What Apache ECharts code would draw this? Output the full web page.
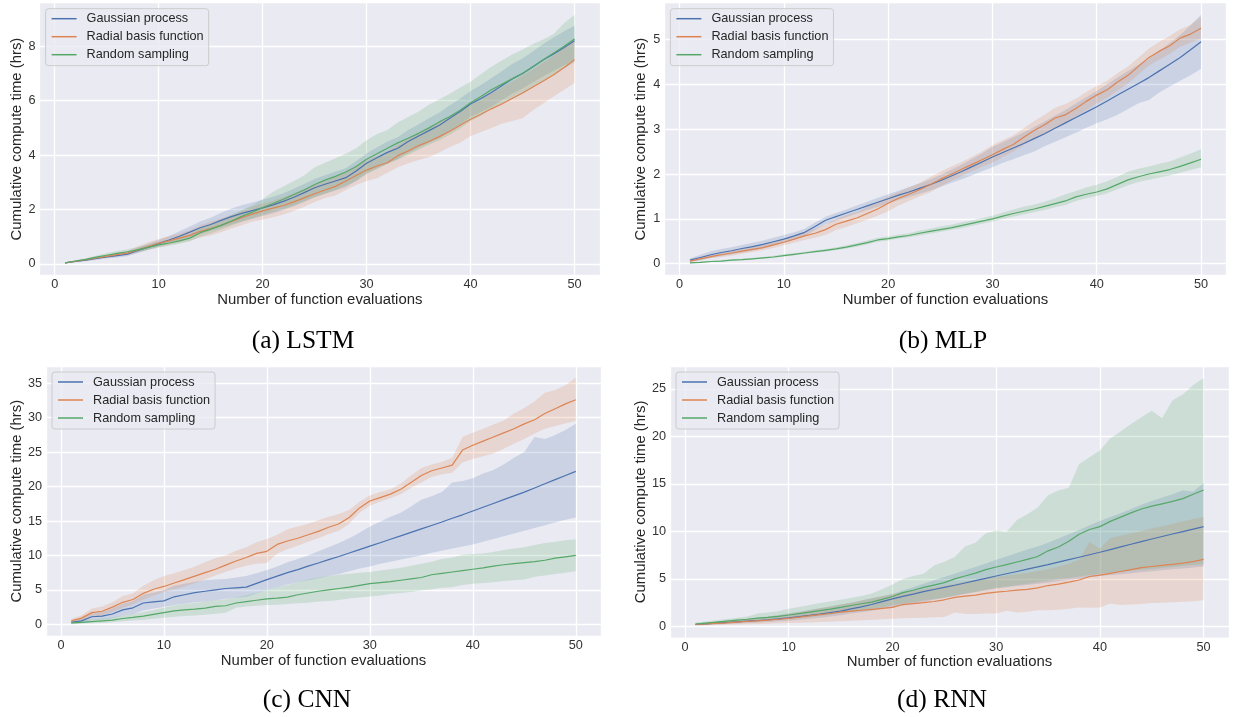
<!DOCTYPE html>
<html><head><meta charset="utf-8">
<script src="https://cdn.jsdelivr.net/npm/echarts@6/dist/echarts.min.js"></script>
<style>html,body{margin:0;padding:0;background:#fff;}#c{width:1233px;height:717px;}</style>
</head><body><div id="c"></div>
<script>
const evals = [1,2,3,4,5,6,7,8,9,10,11,12,13,14,15,16,17,18,19,20,21,22,23,24,25,26,27,28,29,30,31,32,33,34,35,36,37,38,39,40,41,42,43,44,45,46,47,48,49,50];
const seriesNames = ['Gaussian process','Radial basis function','Random sampling'];
const captions = ['(a) LSTM','(b) MLP','(c) CNN','(d) RNN'];
const yAxisTitle = 'Cumulative compute time (hrs)';
const xAxisTitle = 'Number of function evaluations';
const yTickSteps = [2, 1, 5, 5];
const xTickStep = 10;

// (a) LSTM
const aGpMean = [0.04,0.09,0.14,0.20,0.26,0.31,0.36,0.50,0.62,0.75,0.88,1.02,1.17,1.33,1.45,1.60,1.74,1.86,1.96,2.06,2.17,2.30,2.45,2.62,2.80,2.93,3.05,3.17,3.42,3.70,3.90,4.10,4.25,4.50,4.70,4.90,5.10,5.35,5.60,5.88,6.08,6.30,6.55,6.80,7.00,7.25,7.50,7.72,7.95,8.20];
const aGpLo = [0.02,0.06,0.10,0.15,0.20,0.24,0.28,0.40,0.52,0.64,0.74,0.85,0.97,1.10,1.22,1.33,1.45,1.56,1.65,1.76,1.86,1.98,2.12,2.28,2.45,2.58,2.70,2.82,3.05,3.33,3.52,3.70,3.85,4.08,4.27,4.45,4.63,4.88,5.12,5.40,5.58,5.78,6.02,6.25,6.45,6.68,6.90,7.10,7.30,7.50];
const aGpHi = [0.06,0.12,0.18,0.25,0.32,0.38,0.44,0.60,0.74,0.88,1.03,1.20,1.38,1.56,1.70,1.88,2.04,2.16,2.26,2.36,2.47,2.60,2.76,2.94,3.12,3.26,3.40,3.52,3.78,4.06,4.28,4.50,4.66,4.92,5.13,5.35,5.57,5.83,6.08,6.36,6.58,6.82,7.08,7.35,7.55,7.82,8.08,8.32,8.55,8.75];
const aRbfMean = [0.04,0.10,0.16,0.22,0.28,0.34,0.40,0.52,0.64,0.76,0.85,0.95,1.05,1.20,1.30,1.42,1.56,1.70,1.83,1.95,2.05,2.15,2.28,2.43,2.58,2.72,2.85,3.05,3.25,3.45,3.60,3.72,3.98,4.15,4.35,4.50,4.68,4.88,5.10,5.32,5.50,5.70,5.88,6.08,6.28,6.50,6.72,6.95,7.22,7.50];
const aRbfLo = [0.02,0.07,0.12,0.17,0.22,0.27,0.32,0.42,0.52,0.62,0.70,0.78,0.86,0.97,1.05,1.17,1.30,1.42,1.55,1.63,1.72,1.82,1.95,2.10,2.28,2.42,2.52,2.72,2.90,3.05,3.15,3.35,3.55,3.70,3.82,3.92,4.10,4.30,4.45,4.70,4.85,5.00,5.15,5.25,5.35,5.65,5.90,6.15,6.40,6.65];
const aRbfHi = [0.06,0.13,0.20,0.27,0.34,0.41,0.48,0.65,0.80,0.92,1.02,1.12,1.24,1.42,1.55,1.67,1.80,1.96,2.10,2.22,2.32,2.45,2.60,2.76,2.90,3.05,3.20,3.38,3.58,3.80,3.97,4.12,4.38,4.58,4.80,4.98,5.18,5.40,5.62,5.86,6.05,6.28,6.48,6.70,6.92,7.15,7.40,7.65,7.95,8.30];
const aRsMean = [0.04,0.11,0.17,0.25,0.32,0.39,0.45,0.52,0.61,0.70,0.77,0.85,0.95,1.15,1.28,1.42,1.58,1.75,1.90,2.07,2.22,2.38,2.55,2.72,2.92,3.08,3.22,3.38,3.58,3.85,4.05,4.25,4.45,4.62,4.80,5.00,5.22,5.42,5.65,5.92,6.15,6.40,6.60,6.80,7.00,7.25,7.50,7.75,8.00,8.27];
const aRsLo = [0.02,0.08,0.13,0.19,0.24,0.30,0.36,0.43,0.52,0.60,0.67,0.74,0.83,1.00,1.12,1.26,1.40,1.55,1.68,1.80,1.92,2.02,2.15,2.30,2.45,2.58,2.72,2.88,3.05,3.30,3.48,3.66,3.84,4.00,4.20,4.38,4.55,4.75,4.98,5.25,5.45,5.70,5.88,6.06,6.25,6.50,6.72,6.95,7.18,7.40];
const aRsHi = [0.06,0.14,0.21,0.31,0.40,0.48,0.54,0.62,0.71,0.82,0.90,1.00,1.10,1.32,1.46,1.62,1.80,1.98,2.15,2.38,2.65,2.85,3.05,3.25,3.55,3.72,3.88,4.05,4.25,4.55,4.78,4.92,5.20,5.40,5.60,5.85,6.05,6.25,6.48,6.70,6.98,7.25,7.48,7.70,7.88,8.08,8.25,8.45,8.85,9.15];

// (b) MLP
const bGpMean = [0.08,0.14,0.20,0.25,0.29,0.34,0.38,0.43,0.49,0.55,0.62,0.70,0.83,0.97,1.05,1.13,1.21,1.29,1.37,1.45,1.53,1.60,1.68,1.76,1.85,1.95,2.05,2.16,2.27,2.38,2.48,2.58,2.68,2.79,2.90,3.02,3.14,3.26,3.38,3.50,3.63,3.76,3.89,4.02,4.15,4.30,4.45,4.60,4.77,4.95];
const bGpLo = [0.04,0.08,0.13,0.17,0.21,0.25,0.29,0.34,0.40,0.47,0.54,0.62,0.75,0.88,0.96,1.04,1.12,1.20,1.27,1.35,1.42,1.49,1.56,1.63,1.71,1.80,1.88,1.97,2.06,2.15,2.25,2.33,2.42,2.50,2.62,2.72,2.82,2.92,3.03,3.13,3.22,3.32,3.45,3.58,3.65,3.82,3.95,4.08,4.20,4.35];
const bGpHi = [0.12,0.20,0.28,0.33,0.37,0.42,0.47,0.52,0.58,0.64,0.70,0.78,0.92,1.05,1.13,1.21,1.30,1.38,1.47,1.55,1.63,1.71,1.79,1.88,1.98,2.09,2.20,2.33,2.46,2.60,2.71,2.82,2.93,3.05,3.17,3.30,3.43,3.57,3.71,3.85,4.00,4.15,4.30,4.44,4.58,4.75,4.92,5.10,5.32,5.55];
const bRbfMean = [0.06,0.11,0.16,0.20,0.24,0.28,0.32,0.36,0.42,0.48,0.55,0.62,0.68,0.76,0.88,0.95,1.02,1.12,1.22,1.35,1.46,1.55,1.65,1.76,1.88,1.99,2.10,2.21,2.32,2.43,2.55,2.66,2.82,2.97,3.10,3.25,3.32,3.46,3.62,3.76,3.88,4.05,4.20,4.40,4.60,4.74,4.86,5.03,5.12,5.25];
const bRbfLo = [0.04,0.08,0.12,0.15,0.18,0.22,0.26,0.30,0.35,0.41,0.47,0.53,0.58,0.64,0.75,0.82,0.90,0.98,1.07,1.17,1.30,1.40,1.50,1.59,1.72,1.84,1.95,2.06,2.16,2.25,2.38,2.50,2.65,2.78,2.88,3.02,3.12,3.28,3.43,3.57,3.70,3.86,4.02,4.22,4.42,4.55,4.68,4.84,4.93,5.02];
const bRbfHi = [0.08,0.14,0.20,0.25,0.29,0.33,0.38,0.42,0.49,0.56,0.63,0.71,0.78,0.87,1.00,1.08,1.15,1.26,1.37,1.50,1.60,1.70,1.80,1.93,2.05,2.16,2.26,2.38,2.50,2.64,2.76,2.86,3.02,3.18,3.32,3.48,3.56,3.68,3.83,3.96,4.08,4.25,4.40,4.60,4.80,4.95,5.08,5.23,5.33,5.50];
const bRsMean = [0.02,0.03,0.05,0.06,0.08,0.09,0.11,0.13,0.15,0.18,0.21,0.24,0.27,0.30,0.33,0.37,0.42,0.47,0.53,0.56,0.60,0.63,0.68,0.72,0.76,0.80,0.85,0.90,0.95,1.00,1.06,1.12,1.17,1.22,1.28,1.34,1.40,1.49,1.55,1.60,1.67,1.77,1.87,1.94,2.00,2.05,2.10,2.17,2.25,2.33];
const bRsLo = [0.01,0.02,0.04,0.05,0.07,0.08,0.10,0.11,0.13,0.16,0.19,0.22,0.25,0.27,0.30,0.34,0.38,0.43,0.49,0.52,0.56,0.59,0.63,0.67,0.71,0.75,0.79,0.84,0.89,0.94,0.99,1.05,1.10,1.15,1.20,1.26,1.31,1.40,1.46,1.51,1.57,1.66,1.75,1.82,1.87,1.92,1.97,2.03,2.09,2.15];
const bRsHi = [0.03,0.05,0.06,0.08,0.10,0.11,0.13,0.15,0.18,0.21,0.24,0.27,0.30,0.33,0.37,0.41,0.46,0.52,0.58,0.61,0.65,0.68,0.74,0.78,0.83,0.87,0.92,0.97,1.02,1.07,1.14,1.21,1.27,1.32,1.38,1.46,1.55,1.62,1.70,1.76,1.84,1.94,2.05,2.12,2.17,2.23,2.28,2.37,2.46,2.55];

// (c) CNN
const cGpMean = [0.30,0.50,1.10,1.20,1.50,2.10,2.40,3.10,3.25,3.40,4.00,4.30,4.60,4.80,5.00,5.20,5.30,5.40,5.95,6.50,7.00,7.50,7.95,8.45,8.90,9.40,9.85,10.35,10.85,11.35,11.85,12.35,12.85,13.35,13.85,14.35,14.85,15.40,15.90,16.45,17.00,17.55,18.10,18.65,19.20,19.80,20.40,21.00,21.60,22.20];
const cGpLo = [0.10,0.20,0.60,0.70,0.90,1.30,1.50,2.00,2.30,2.50,2.80,3.00,3.20,3.30,3.50,3.70,3.85,4.00,4.50,5.00,5.40,5.80,6.10,6.40,6.70,7.00,7.30,7.70,8.10,8.40,8.80,9.10,9.40,9.70,10.00,10.40,10.70,11.00,11.30,11.60,12.00,12.40,12.80,13.20,13.60,14.00,14.40,14.80,15.20,15.50];
const cGpHi = [0.50,0.90,1.70,1.80,2.30,3.00,3.40,4.30,4.60,5.00,5.60,5.90,6.20,6.40,6.50,6.60,6.80,7.00,7.40,7.90,8.40,9.00,9.50,10.00,10.60,11.20,11.80,12.50,13.30,14.20,14.90,15.60,16.20,17.10,18.10,18.60,19.20,20.60,20.80,21.20,21.90,22.40,23.20,24.20,25.00,27.20,26.90,27.50,28.20,29.10];
const cRbfMean = [0.50,0.90,1.70,1.90,2.50,3.20,3.60,4.50,5.10,5.50,6.00,6.50,7.00,7.50,8.00,8.60,9.20,9.70,10.30,10.60,11.60,12.10,12.50,13.00,13.50,14.10,14.60,15.50,16.90,17.90,18.40,18.90,19.60,20.60,21.60,22.30,22.70,23.10,25.30,26.00,26.60,27.20,27.80,28.40,29.10,29.70,30.60,31.30,32.00,32.60];
const cRbfLo = [0.20,0.40,1.10,1.30,1.80,2.40,2.90,3.60,4.20,4.70,5.10,5.50,6.00,6.50,7.10,7.60,8.10,8.50,8.80,8.90,10.30,10.90,11.40,12.00,12.50,13.10,13.60,14.60,16.20,17.20,17.80,18.30,18.90,19.80,20.60,21.40,21.80,22.00,23.50,24.00,24.40,24.80,25.50,26.20,26.90,27.70,28.40,28.80,29.20,29.50];
const cRbfHi = [0.80,1.30,2.30,2.60,3.20,4.10,4.50,5.60,6.40,7.00,7.40,7.90,8.40,9.00,9.60,10.00,10.70,11.20,11.90,12.40,13.00,13.80,14.20,14.60,15.10,15.60,16.00,16.60,17.80,18.70,19.20,19.60,20.40,21.60,22.70,23.20,23.60,24.20,27.20,27.80,28.40,29.00,29.60,30.60,31.40,32.40,33.60,34.00,34.70,35.80];
const cRsMean = [0.20,0.30,0.40,0.50,0.60,0.85,1.00,1.20,1.45,1.70,1.95,2.10,2.20,2.35,2.60,2.70,3.10,3.30,3.50,3.70,3.80,3.95,4.30,4.55,4.80,5.00,5.20,5.40,5.65,5.90,6.05,6.20,6.40,6.60,6.80,7.20,7.40,7.60,7.80,8.00,8.20,8.45,8.65,8.80,8.95,9.10,9.30,9.60,9.80,10.00];
const cRsLo = [0.00,0.10,0.15,0.20,0.30,0.45,0.55,0.65,0.80,0.95,1.10,1.20,1.30,1.40,1.55,1.70,2.40,2.60,2.70,2.80,2.85,2.95,3.05,3.15,3.30,3.40,3.55,3.75,3.90,4.05,4.20,4.40,4.55,4.70,4.90,5.10,5.30,5.40,5.70,5.90,6.00,6.10,6.30,6.40,6.50,6.90,7.10,7.30,7.50,7.70];
const cRsHi = [0.40,0.55,0.70,0.85,1.00,1.30,1.55,1.80,2.10,2.40,2.75,2.95,3.10,3.30,3.50,3.65,3.90,4.20,4.60,5.00,5.40,5.70,6.10,6.50,6.80,7.00,7.20,7.35,7.50,7.60,7.80,8.00,8.20,8.50,8.80,9.10,9.50,9.70,10.10,10.20,10.30,10.50,10.80,11.00,11.20,11.50,11.80,12.00,12.20,12.30];

// (d) RNN
const dGpMean = [0.20,0.27,0.34,0.41,0.48,0.55,0.62,0.70,0.79,0.90,1.02,1.15,1.29,1.44,1.60,1.85,2.05,2.30,2.60,2.90,3.15,3.40,3.65,3.88,4.10,4.33,4.57,4.81,5.05,5.30,5.54,5.78,6.02,6.26,6.50,6.76,7.02,7.28,7.54,7.80,8.08,8.36,8.64,8.92,9.20,9.46,9.72,9.98,10.24,10.50];
const dGpLo = [0.10,0.15,0.20,0.25,0.30,0.35,0.40,0.46,0.53,0.60,0.70,0.80,0.92,1.05,1.18,1.35,1.50,1.65,1.82,2.00,2.20,2.40,2.60,2.80,3.00,3.20,3.40,3.60,3.80,4.00,4.12,4.24,4.36,4.48,4.60,4.74,4.88,5.02,5.16,5.30,5.40,5.50,5.60,5.70,5.80,5.90,6.00,6.10,6.20,6.30];
const dGpHi = [0.30,0.40,0.50,0.60,0.70,0.80,0.92,1.05,1.20,1.38,1.55,1.72,1.90,2.10,2.30,2.50,2.72,2.95,3.18,3.42,3.78,4.12,4.48,4.85,5.20,5.55,5.90,6.25,6.62,7.00,7.35,7.72,8.08,8.42,8.80,9.25,9.70,10.15,10.65,11.10,11.50,11.90,12.35,12.80,13.20,13.55,13.90,14.30,14.20,15.10];
const dRbfMean = [0.20,0.26,0.32,0.38,0.45,0.52,0.59,0.66,0.75,0.85,0.97,1.10,1.23,1.36,1.50,1.60,1.70,1.80,1.90,2.00,2.30,2.40,2.50,2.62,2.80,3.05,3.18,3.30,3.48,3.60,3.70,3.82,3.90,4.05,4.30,4.45,4.65,4.88,5.25,5.40,5.58,5.78,5.98,6.18,6.30,6.42,6.52,6.65,6.82,7.05];
const dRbfLo = [0.10,0.12,0.14,0.17,0.20,0.23,0.26,0.29,0.32,0.35,0.38,0.42,0.46,0.50,0.55,0.60,0.65,0.70,0.75,0.80,0.85,0.88,0.92,0.96,1.00,1.45,1.30,1.30,1.35,1.35,1.65,1.45,1.55,1.70,1.70,1.75,1.85,2.00,1.95,2.00,2.40,2.25,2.30,2.35,2.45,2.50,2.55,2.60,2.65,2.75];
const dRbfHi = [0.30,0.40,0.50,0.60,0.70,0.80,0.90,1.02,1.15,1.30,1.50,1.70,1.90,2.10,2.30,2.50,2.72,2.95,3.18,3.40,3.60,3.75,3.90,4.10,4.30,4.50,4.70,4.88,5.05,5.20,5.35,5.50,5.65,5.82,6.00,6.30,6.60,7.00,8.90,8.20,9.30,9.55,9.80,10.05,10.30,10.55,10.80,11.05,11.30,11.55];
const dRsMean = [0.25,0.35,0.45,0.55,0.65,0.75,0.88,0.95,1.05,1.20,1.35,1.50,1.65,1.82,2.00,2.20,2.38,2.55,2.85,3.15,3.55,3.80,4.10,4.35,4.60,5.00,5.30,5.60,5.98,6.25,6.50,6.78,7.05,7.35,7.95,8.35,8.95,9.70,10.20,10.50,11.05,11.50,11.95,12.35,12.65,12.90,13.15,13.45,13.90,14.35];
const dRsLo = [0.15,0.22,0.28,0.35,0.42,0.48,0.55,0.62,0.70,0.80,0.90,1.00,1.12,1.25,1.40,1.55,1.70,1.85,2.02,2.20,2.38,2.55,2.72,2.88,3.05,3.25,3.45,3.65,3.85,4.05,4.20,4.35,4.50,4.65,4.80,4.95,5.10,5.25,5.40,5.55,5.65,5.75,5.85,5.95,6.05,6.15,6.25,6.35,6.45,6.55];
const dRsHi = [0.40,0.52,0.65,0.78,0.90,1.05,1.35,1.45,1.60,1.85,2.05,2.25,2.45,2.62,2.80,3.00,3.20,3.45,3.90,4.40,5.00,5.30,5.55,6.40,6.80,7.30,8.40,8.80,9.80,10.10,9.95,11.20,11.80,12.50,13.80,14.30,14.60,17.10,17.80,18.50,19.80,20.50,21.30,22.00,22.70,21.90,23.80,24.40,25.40,26.10];

const palette = ['#4C72B0', '#DD8452', '#55A868'];
const bandFill = ['rgba(76,114,176,0.2)', 'rgba(221,132,82,0.2)', 'rgba(85,168,104,0.2)'];
const SANS = '"Liberation Sans", Arial, sans-serif';
const SERIF = '"Liberation Serif", "Times New Roman", serif';

const panels = [
  { caption: captions[0], cap: [303, 341], grid: {left: 39.6, top: 2.7, width: 560.4, height: 272.7}, y: [-0.42, 9.6], yStep: yTickSteps[0], yGap: 15,
    runs: [[aGpMean, aGpLo, aGpHi], [aRbfMean, aRbfLo, aRbfHi], [aRsMean, aRsLo, aRsHi]] },
  { caption: captions[1], cap: [943, 341], grid: {left: 664.4, top: 2.7, width: 562.2, height: 272.7}, y: [-0.26, 5.82], yStep: yTickSteps[1], yGap: 16,
    runs: [[bGpMean, bGpLo, bGpHi], [bRbfMean, bRbfLo, bRbfHi], [bRsMean, bRsLo, bRsHi]] },
  { caption: captions[2], cap: [307, 700], grid: {left: 46, top: 366, width: 555, height: 270.4}, y: [-1.75, 37.5], yStep: yTickSteps[2], yGap: 22,
    runs: [[cGpMean, cGpLo, cGpHi], [cRbfMean, cRbfLo, cRbfHi], [cRsMean, cRsLo, cRsHi]] },
  { caption: captions[3], cap: [942, 700], grid: {left: 670, top: 366, width: 559, height: 271.8}, y: [-1.2, 27.4], yStep: yTickSteps[3], yGap: 22,
    runs: [[dGpMean, dGpLo, dGpHi], [dRbfMean, dRbfLo, dRbfHi], [dRsMean, dRsLo, dRsHi]] }
];

function tickFormatter(step) {
  return function (v) {
    const r = v / step;
    return Math.abs(r - Math.round(r)) < 1e-6 ? String(Math.round(v)) : '';
  };
}

function bandRenderer(lo, hi, fill) {
  return function (params, api) {
    if (params.dataIndex !== 0) return null;
    const pts = [];
    for (let j = 0; j < evals.length; j++) pts.push(api.coord([evals[j], hi[j]]));
    for (let j = evals.length - 1; j >= 0; j--) pts.push(api.coord([evals[j], lo[j]]));
    return {type: 'polygon', shape: {points: pts}, style: {fill: fill, stroke: null}, silent: true};
  };
}

const grids = [], xAxes = [], yAxes = [], legends = [], series = [], graphics = [];
panels.forEach((p, i) => {
  grids.push(Object.assign({show: true, backgroundColor: '#EAEAF2', borderWidth: 0}, p.grid));
  xAxes.push({
    type: 'value', gridIndex: i, min: -1.45, max: 52.45, minInterval: xTickStep, maxInterval: xTickStep,
    axisLine: {show: false}, axisTick: {show: false},
    splitLine: {show: true, lineStyle: {color: '#ffffff', width: 1.3}},
    axisLabel: {fontFamily: SANS, fontSize: 12.7, color: '#333333', margin: 3, formatter: tickFormatter(xTickStep)},
    name: xAxisTitle, nameLocation: 'middle', nameGap: 16,
    nameTextStyle: {fontFamily: SANS, fontSize: 14.9, color: '#262626'}
  });
  yAxes.push({
    type: 'value', gridIndex: i, min: p.y[0], max: p.y[1], minInterval: p.yStep, maxInterval: p.yStep,
    axisLine: {show: false}, axisTick: {show: false},
    splitLine: {show: true, lineStyle: {color: '#ffffff', width: 1.3}},
    axisLabel: {fontFamily: SANS, fontSize: 12.7, color: '#333333', margin: 4, formatter: tickFormatter(p.yStep)},
    name: yAxisTitle, nameLocation: 'middle', nameGap: p.yGap, nameRotate: 90,
    nameTextStyle: {fontFamily: SANS, fontSize: 14.9, color: '#262626'}
  });
  legends.push({
    data: seriesNames, orient: 'vertical', left: p.grid.left + 6, top: p.grid.top + 6,
    icon: 'rect', itemWidth: 25, itemHeight: 1.5, itemGap: 4, selectedMode: false,
    backgroundColor: 'rgba(234,234,242,0.8)', borderColor: '#cccccc', borderWidth: 1, borderRadius: 3,
    padding: [3, 5, 4, 6],
    textStyle: {fontFamily: SANS, fontSize: 12.7, color: '#262626', lineHeight: 14, padding: [0, 0, 0, 5]}
  });
  p.runs.forEach((run, k) => {
    const [mean, lo, hi] = run;
    series.push({
      type: 'line', name: seriesNames[k], xAxisIndex: i, yAxisIndex: i, color: palette[k],
      data: evals.map((x, j) => [x, mean[j]]), symbol: 'none', showSymbol: false,
      lineStyle: {width: 1.2, color: palette[k]}, emphasis: {disabled: true}, silent: true, z: 2
    });
    series.push({
      type: 'custom', name: 'band_' + i + '_' + k, xAxisIndex: i, yAxisIndex: i,
      data: evals.map((x, j) => [x, lo[j], hi[j]]), encode: {x: 0, y: [1, 2]},
      renderItem: bandRenderer(lo, hi, bandFill[k]), silent: true, z: 2
    });
  });
  graphics.push({
    type: 'text', x: p.cap[0], y: p.cap[1],
    style: {text: p.caption, font: '25.5px ' + SERIF, fill: '#000000', textAlign: 'center', textVerticalAlign: 'middle'}
  });
});

const chart = echarts.init(document.getElementById('c'), null, {renderer: 'canvas'});
chart.setOption({
  backgroundColor: '#ffffff',
  animation: false,
  grid: grids, xAxis: xAxes, yAxis: yAxes, legend: legends, series: series,
  graphic: graphics
});
</script>
</body></html>
